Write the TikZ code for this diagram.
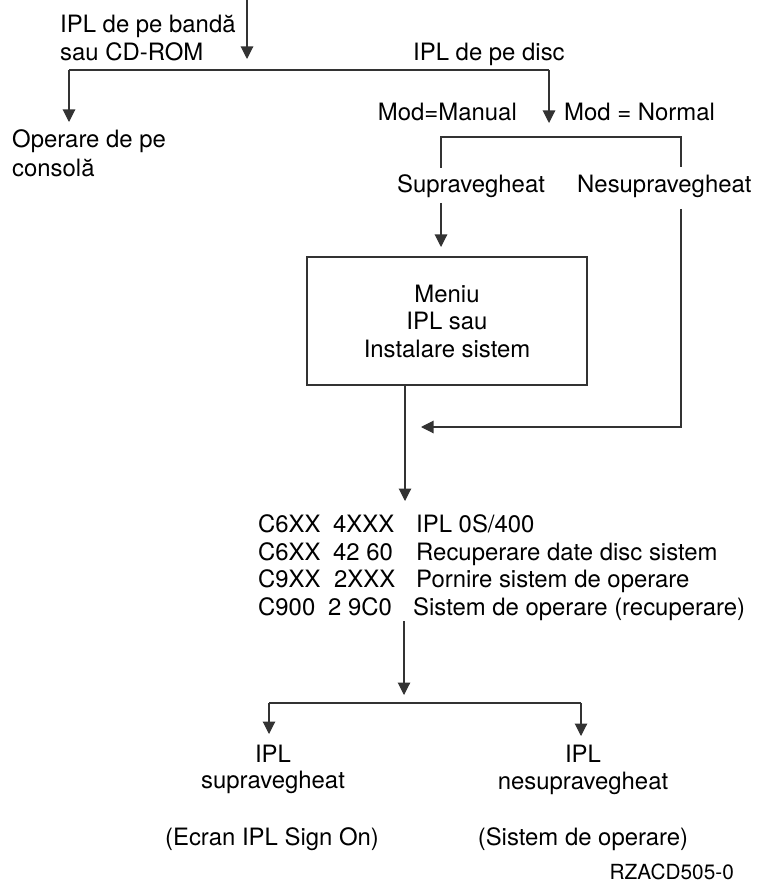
\documentclass[tikz,border=0pt]{standalone}
\usepackage{fontspec}
\setmainfont{TeX Gyre Heros}
\usetikzlibrary{arrows.meta}
\begin{document}
\begin{tikzpicture}[x=1pt,y=-1pt,
  line/.style={draw=black!80, line width=1.1pt},
  arr/.style={line, -{Triangle[width=12.5pt,length=12.5pt]}},
  lbl/.style={inner sep=0pt, font=\fontsize{23.9}{27.5}\selectfont, text=black},
  lw/.style={lbl, anchor=base west},
  le/.style={lbl, anchor=base east},
  lc/.style={lbl, anchor=base},
  menubox/.style={lbl, line, align=center, minimum width=280pt, minimum height=128pt}]
\useasboundingbox (0,0) rectangle (756,882);

% --- start of the boot: tape/CD or disc ---
\node[lw] (banda1) at (60,33) {IPL de pe bandă};
\node[lw] (banda2) at (60,61) {sau CD-ROM};
\node[lw] (disc) at (413,61) {IPL de pe disc};
\node[lw] (cons1) at (12,148) {Operare de pe};
\node[lw] (cons2) at (12,177) {consolă};

\coordinate (src) at (247,0);
\coordinate (srcEnd) at (247,59);
\coordinate (splitL) at (69,70);
\coordinate (splitR) at (549,70);
\coordinate (consTip) at (69,122);
\coordinate (discTip) at (549,123);
\draw[arr] (src) -- (srcEnd);
\draw[line] (splitL) -- (splitR);
\draw[arr] (splitL) -- (consTip);
\draw[arr] (splitR) -- (discTip);

% --- disc IPL: mode selection ---
\node[le] (manual) at (517,121) {Mod=Manual};
\node[lw] (normal) at (564,121) {Mod = Normal};
\node[lw] (sup) at (397,193) {Supravegheat};
\node[lw] (nesup) at (577,193) {Nesupravegheat};

\coordinate (brL) at (441,168);
\coordinate (brLt) at (441,137);
\coordinate (brRt) at (681,137);
\coordinate (brR) at (681,167);
\draw[line] (brL) -- (brLt) -- (brRt) -- (brR);

% --- IPL menu box ---
\node[menubox] (menu) at (447,321) {Meniu\\IPL sau\\Instalare sistem};
\coordinate (supStart) at (441,203);
\coordinate (supTip) at (441,247);
\draw[arr] (supStart) -- (supTip);

\coordinate (menuOut) at (405,385);
\coordinate (codesTip) at (405,501);
\draw[arr] (menuOut) -- (codesTip);

\coordinate (nesStart) at (681,209);
\coordinate (nesCorner) at (681,427);
\coordinate (nesTip) at (421,427);
\draw[arr] (nesStart) -- (nesCorner) -- (nesTip);

% --- reference codes ---
\node[lw] (c11) at (258,532) {C6XX};
\node[lw] (c12) at (333,532) {4XXX};
\node[lw] (c13) at (416,532) {IPL 0S/400};
\node[lw] (c21) at (258,560) {C6XX};
\node[lw] (c22) at (333,560) {42 60};
\node[lw] (c23) at (416,560) {Recuperare date disc sistem};
\node[lw] (c31) at (258,587) {C9XX};
\node[lw] (c32) at (334,587) {2XXX};
\node[lw] (c33) at (416,587) {Pornire sistem de operare};
\node[lw] (c41) at (258,615) {C900};
\node[lw] (c42) at (328,615) {2 9C0};
\node[lw] (c43) at (413,615) {Sistem de operare (recuperare)};

\coordinate (codesOut) at (404,621);
\coordinate (codesOutTip) at (404,695);
\draw[arr] (codesOut) -- (codesOutTip);

\coordinate (endL) at (269,703);
\coordinate (endR) at (581,703);
\coordinate (endLTip) at (269,734);
\coordinate (endRTip) at (581,736);
\draw[line] (endL) -- (endR);
\draw[arr] (endL) -- (endLTip);
\draw[arr] (endR) -- (endRTip);

% --- outcomes ---
\node[lc] (att1) at (273,762) {IPL};
\node[lc] (att2) at (273,788) {supravegheat};
\node[lc] (att3) at (272,845) {(Ecran IPL Sign On)};
\node[lc] (un1) at (583,762) {IPL};
\node[lc] (un2) at (583,789) {nesupravegheat};
\node[lc] (un3) at (583,845) {(Sistem de operare)};

\node[lbl, anchor=base east, font=\fontsize{20.8}{24}\selectfont] (fig) at (734,879) {RZACD505-0};
\end{tikzpicture}
\end{document}
